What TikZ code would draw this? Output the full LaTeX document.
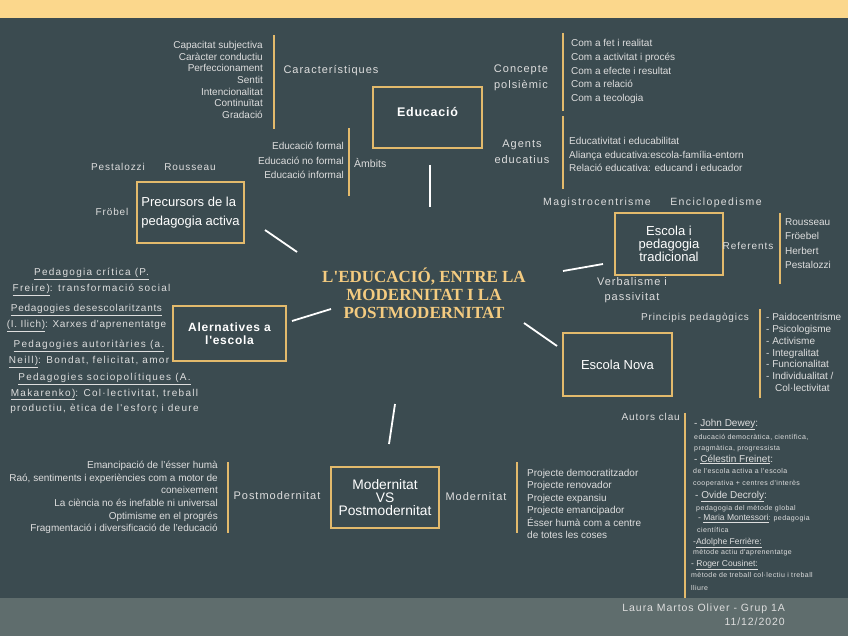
\documentclass[tikz,border=0pt]{standalone}
\usepackage{fontspec}
\setmainfont{Liberation Sans}
\newfontfamily\lblfont[LetterSpace=9]{Liberation Sans}
\newfontfamily\widefont[LetterSpace=13]{Liberation Sans}
\newfontfamily\notefont[LetterSpace=6]{Liberation Sans}
\newfontfamily\boxfont[LetterSpace=6]{Liberation Sans}
\newfontfamily\titlefont{Liberation Serif}
\usetikzlibrary{positioning}
\definecolor{slate}{HTML}{3B4B50}
\definecolor{gold}{HTML}{E3BA6C}
\definecolor{titlegold}{HTML}{F4CB80}
\definecolor{topband}{HTML}{FBD78C}
\definecolor{footband}{HTML}{5F6D6D}
\definecolor{ink}{HTML}{DEDEDE}
\tikzset{
	box/.style={draw=gold,line width=2pt,fill=slate,rectangle,align=center,text=white,inner sep=0pt},
	bar/.style={draw=gold,line width=1.8pt},
	link/.style={draw=white,line width=1.8pt},
	lbl/.style={text=ink,font={\lblfont\fontsize{11}{16}\selectfont},align=center,inner sep=0pt},
	wlbl/.style={text=ink,font={\widefont\fontsize{10.5}{16}\selectfont},align=center,inner sep=0pt},
	item/.style={text=ink,font={\fontsize{10}{12}\selectfont},inner sep=0pt},
	note/.style={text=ink,font={\notefont\fontsize{7}{9}\selectfont},anchor=base west,inner sep=0pt},
	who/.style={text=ink,font={\fontsize{10}{10}\selectfont},anchor=base west,inner sep=0pt}
}
\begin{document}
\begin{tikzpicture}[x=1pt,y=-1pt]
	\fill[slate] (0,0) rectangle (848,636);
	\useasboundingbox (0,0) rectangle (848,636);
	\fill[topband] (0,0) rectangle (848,18);
	\fill[footband] (0,598) rectangle (848,636);

	% centre
	\node[text=titlegold,align=center,inner sep=0pt,font={\titlefont\bfseries\fontsize{17}{18}\selectfont}] (title) at (424,293) {L'EDUCACIÓ, ENTRE LA\\MODERNITAT I LA\\POSTMODERNITAT};

	% boxes
	\node[box,minimum width=109,minimum height=61,text depth=12pt,font={\boxfont\bfseries\fontsize{12.5}{14}\selectfont}] (educacio) at (427.5,117.5) {Educació};
	\node[box,minimum width=107,minimum height=61,align=left,font={\fontsize{13}{19}\selectfont}] (precursors) at (190.5,212.5) {Precursors de la\\pedagogia activa};
	\node[box,minimum width=108,minimum height=62,font={\fontsize{13}{13}\selectfont}] (tradicional) at (669,244) {Escola i\\pedagogia\\tradicional};
	\node[box,minimum width=113,minimum height=55,font={\boxfont\bfseries\fontsize{12}{13}\selectfont}] (alternatives) at (229.5,333.5) {Alernatives a\\l'escola};
	\node[box,minimum width=109,minimum height=63,font={\fontsize{13}{14}\selectfont}] (nova) at (617.5,364.5) {Escola Nova};
	\node[box,minimum width=108,minimum height=61,font={\fontsize{13.8}{13}\selectfont}] (modernitat) at (385,497.5) {Modernitat\\VS\\Postmodernitat};

	% connectors
	\coordinate (t1) at (430,165); \coordinate (e1) at (430,207);
	\coordinate (t2) at (265,230); \coordinate (e2) at (297,252);
	\coordinate (t3) at (292,321); \coordinate (e3) at (331,309);
	\coordinate (t4) at (563,271); \coordinate (e4) at (603,264);
	\coordinate (t5) at (524,323); \coordinate (e5) at (557,346);
	\coordinate (t6) at (395,404); \coordinate (e6) at (389,444);
	\foreach \i in {1,...,6}
		\draw[link] (t\i) -- (e\i);

	% gold bars
	\draw[bar] (274,35) -- (274,129);
	\draw[bar] (563,33) -- (563,111);
	\draw[bar] (563,116) -- (563,189);
	\draw[bar] (349,128) -- (349,196);
	\draw[bar] (780,213) -- (780,284);
	\draw[bar] (760,309) -- (760,398);
	\draw[bar] (685,413) -- (685,598);
	\draw[bar] (228,462) -- (228,533);
	\draw[bar] (517,462) -- (517,533);

	% Educacio
	\node[lbl] (caract) at (331,71) {Característiques};
	\node[item,anchor=east,align=right,font={\fontsize{10}{11.7}\selectfont}] (caractlist) at (263,80) {Capacitat subjectiva\\Caràcter conductiu\\Perfeccionament\\Sentit\\Intencionalitat\\Continuïtat\\Gradació};
	\node[lbl] (concepte) at (521,78) {Concepte\\polsièmic};
	\node[item,anchor=west,align=left,font={\fontsize{10}{13.8}\selectfont}] (conceptelist) at (571,71.5) {Com a fet i realitat\\Com a activitat i procés\\Com a efecte i resultat\\Com a relació\\Com a tecologia};
	\node[lbl] (agents) at (522,152) {Agents\\educatius};
	\node[item,anchor=west,align=left,font={\fontsize{10}{13.5}\selectfont}] (agentslist) at (569,154.5) {Educativitat i educabilitat\\Aliança educativa:escola-família-entorn\\Relació educativa: educand i educador};
	\node[item,anchor=west,font={\fontsize{10.5}{12}\selectfont}] (ambits) at (354,163) {Àmbits};
	\node[item,anchor=east,align=right,font={\fontsize{10}{14.5}\selectfont}] (ambitslist) at (344,160.5) {Educació formal\\Educació no formal\\Educació informal};

	% Precursors
	\node[lbl,font={\lblfont\fontsize{10}{12}\selectfont}] (pestalozzi) at (118,167) {Pestalozzi};
	\node[lbl,font={\lblfont\fontsize{10}{12}\selectfont}] (rousseau) at (190,167) {Rousseau};
	\node[lbl,font={\lblfont\fontsize{10}{12}\selectfont}] (frobel) at (112,212) {Fröbel};

	% Escola tradicional
	\node[wlbl] (magistro) at (597,203) {Magistrocentrisme};
	\node[wlbl] (enciclo) at (716,203) {Enciclopedisme};
	\node[lbl,font={\lblfont\fontsize{10}{12}\selectfont}] (referents) at (748,246) {Referents};
	\node[item,anchor=west,align=left,font={\fontsize{10}{14.3}\selectfont}] (referentslist) at (785,243.5) {Rousseau\\Fröebel\\Herbert\\Pestalozzi};
	\node[lbl,font={\lblfont\fontsize{11}{15}\selectfont}] (verbalisme) at (632,290) {Verbalisme i\\passivitat};

	% Escola Nova
	\node[lbl,font={\lblfont\fontsize{10}{12}\selectfont}] (principis) at (695,318) {Principis pedagògics};
	\node[item,anchor=west,align=left,font={\fontsize{10}{11.8}\selectfont}] (principislist) at (766,352.5) {- Paidocentrisme\\- Psicologisme\\- Activisme\\- Integralitat\\- Funcionalitat\\- Individualitat /\\\hspace*{9pt}Col·lectivitat};
	\node[lbl,anchor=east,font={\lblfont\fontsize{10}{12}\selectfont}] (autors) at (680,417) {Autors clau};
	\node[who] (dewey) at (694,426) {- \underline{John Dewey}:};
	\node[note] at (694,439.5) {educació democràtica, científica,};
	\node[note] at (694,450.5) {pragmàtica, progressista};
	\node[who] (freinet) at (694,462) {- \underline{Célestin Freinet}:};
	\node[note] at (693,473.5) {de l'escola activa a l'escola};
	\node[note] at (693,485.5) {cooperativa + centres d'interès};
	\node[who] (decroly) at (695,498) {- \underline{Ovide Decroly}:};
	\node[note] at (696,510.5) {pedagogia del mètode global};
	\node[note] (montessori) at (698,520.5) {{\normalfont\fontsize{8.5}{9}\selectfont - \underline{Maria Montessori}}: pedagogia};
	\node[note] at (697,532.5) {científica};
	\node[who,font={\fontsize{8.5}{9}\selectfont}] (ferriere) at (693,544) {-\underline{Adolphe Ferrière:}};
	\node[note] at (693,554.5) {mètode actiu d'aprenentatge};
	\node[who,font={\fontsize{8.5}{9}\selectfont}] (cousinet) at (691,566) {- \underline{Roger Cousinet:}};
	\node[note] at (691,577.5) {mètode de treball col·lectiu i treball};
	\node[note] at (691,590.5) {lliure};

	% Alternatives
	\node[wlbl,font={\widefont\fontsize{10}{16}\selectfont}] (freire) at (91.5,282) {\underline{Pedagogia crítica (P.}\\\underline{Freire)}: transformació social};
	\node[wlbl,font={\widefont\addfontfeature{LetterSpace=7}\fontsize{10}{16}\selectfont}] (ilich) at (86.5,318) {\underline{Pedagogies desescolaritzants}\\\underline{(I. Ilich)}: Xarxes d'aprenentatge};
	\node[wlbl,font={\widefont\fontsize{10}{16}\selectfont}] (neill) at (89,354) {\underline{Pedagogies autoritàries (a.}\\\underline{Neill)}: Bondat, felicitat, amor};
	\node[wlbl,font={\widefont\fontsize{10}{15.5}\selectfont}] (makarenko) at (104.5,393.5) {\underline{Pedagogies sociopolítiques (A.}\\\underline{Makarenko)}: Col·lectivitat, treball\\productiu, ètica de l'esforç i deure};

	% Modernitat VS Postmodernitat
	\node[lbl] (postmod) at (277,496) {Postmodernitat};
	\node[item,anchor=east,align=right,font={\fontsize{10}{12.6}\selectfont}] (postmodlist) at (218,497.5) {Emancipació de l'ésser humà\\Raó, sentiments i experiències com a motor de\\coneixement\\La ciència no és inefable ni universal\\Optimisme en el progrés\\Fragmentació i diversificació de l'educació};
	\node[lbl] (mod) at (476,497) {Modernitat};
	\node[item,anchor=west,align=left,font={\fontsize{10}{12.4}\selectfont}] (modlist) at (527,504) {Projecte democratitzador\\Projecte renovador\\Projecte expansiu\\Projecte emancipador\\Ésser humà com a centre\\de totes les coses};

	% footer
	\node[text=ink,anchor=east,align=right,inner sep=0pt,font={\lblfont\fontsize{10.5}{14}\selectfont}] (signature) at (785,615) {Laura Martos Oliver - Grup 1A\\11/12/2020};
\end{tikzpicture}
\end{document}
